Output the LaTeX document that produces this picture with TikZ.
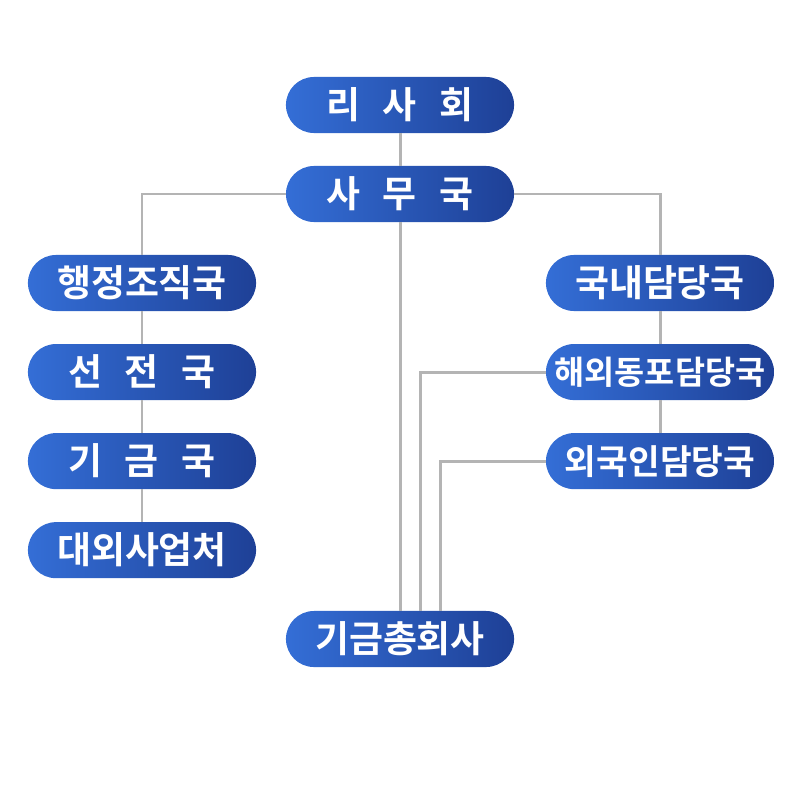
\documentclass[tikz,border=0pt]{standalone}
\usepackage{fontspec}
\usepackage{xcolor}
\usepackage{tikz}
\usetikzlibrary{calc,positioning}
\newfontfamily\krfont{Noto Sans CJK KR Bold}
\definecolor{pillL}{RGB}{52,110,214}
\definecolor{pillR}{RGB}{30,64,150}
\definecolor{linkgray}{RGB}{180,180,180}
\newcommand{\wsp}{\hspace{0.62em}}

\begin{document}
\begin{tikzpicture}[x=0.01cm,y=-0.01cm,line width=0.85pt,
    pill/.style={draw=none,rounded corners=0.28cm,left color=pillL,right color=pillR,
      minimum width=2.28cm,minimum height=0.56cm,inner sep=0pt,outer sep=0pt,text=white,
      font=\krfont\fontsize{10.5}{12}\selectfont},
    link/.style={draw=linkgray,line width=0.85pt}]
    \useasboundingbox (0,0) rectangle (800,800);
    \coordinate (rshC) at (400,105);
    \coordinate (smgC) at (400,194);
    \coordinate (hjjC) at (142,283);
    \coordinate (gndC) at (660,283);
    \coordinate (gchC) at (400,639);
    % boxes
    \node[pill] (rsh) at (rshC) {리\wsp 사\wsp 회};
    \node[pill] (smg) at (smgC) {사\wsp 무\wsp 국};
    \node[pill] (hjj) at (hjjC) {행정조직국};
    \node[pill,below=0.33cm of hjj] (sjg) {선\wsp 전\wsp 국};
    \node[pill,below=0.33cm of sjg] (ggg) {기\wsp 금\wsp 국};
    \node[pill,below=0.33cm of ggg] (dws) {대외사업처};
    \node[pill] (gnd) at (gndC) {국내담당국};
    \node[pill,below=0.33cm of gnd,font=\krfont\fontsize{9.3}{11}\selectfont] (hdp) {해외동포담당국};
    \node[pill,below=0.33cm of hdp,font=\krfont\fontsize{9.8}{11}\selectfont] (wgi) {외국인담당국};
    \node[pill] (gch) at (gchC) {기금총회사};
    \coordinate (gchA) at ($(gch.north)+(20,0)$);
    \coordinate (gchB) at ($(gch.north)+(40,0)$);
    % links
    \draw[link] (rsh) -- (smg);
    \draw[link] (smg.west) -| (hjj.north);
    \draw[link] (smg.east) -| (gnd.north);
    \draw[link] (smg.south) -- (gch.north);
    \draw[link] (hjj.south) -- (sjg.north);
    \draw[link] (sjg.south) -- (ggg.north);
    \draw[link] (ggg.south) -- (dws.north);
    \draw[link] (gnd.south) -- (hdp.north);
    \draw[link] (hdp.south) -- (wgi.north);
    \draw[link] (hdp.west) -| (gchA);
    \draw[link] (wgi.west) -| (gchB);
  \end{tikzpicture}
\end{document}
